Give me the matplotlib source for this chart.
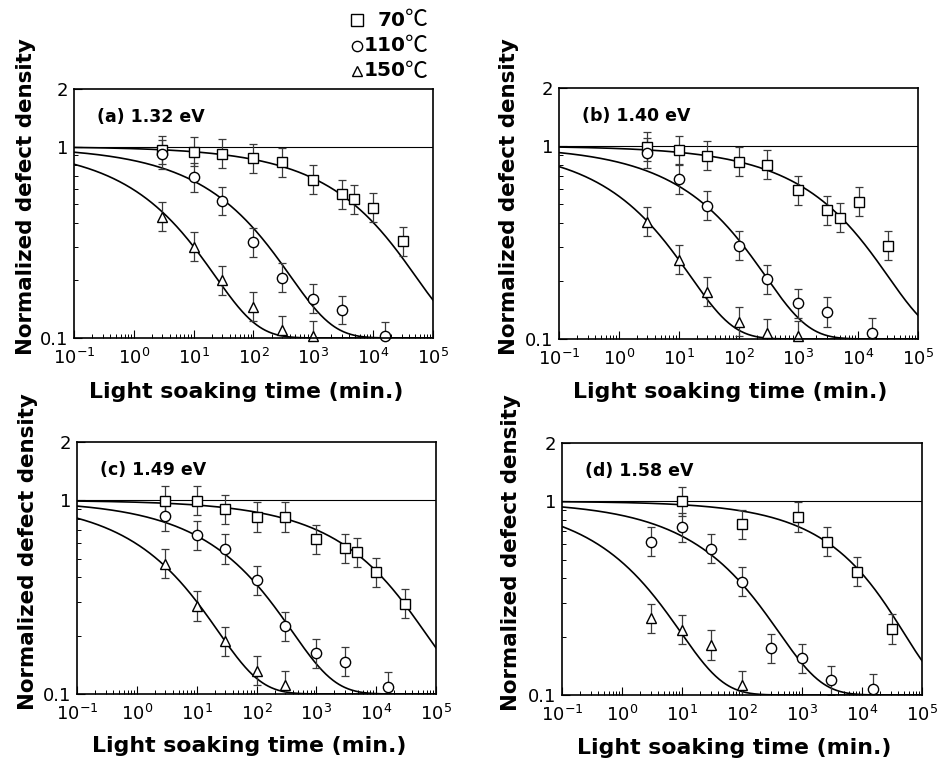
import numpy as np
import matplotlib
matplotlib.use("Agg")
import matplotlib.pyplot as plt
from matplotlib.ticker import LogLocator, FixedLocator, NullFormatter, FixedFormatter
from matplotlib.lines import Line2D

plt.rcParams['font.family'] = ['DejaVu Sans']
plt.rcParams['mathtext.fontset'] = 'dejavusans'

# ---------------- data ----------------
temps = ['70', '110', '150']
panel_titles = ['(a) 1.32 eV', '(b) 1.40 eV', '(c) 1.49 eV', '(d) 1.58 eV']

# panel (a)
a_t70 = [3, 10, 30, 100, 300, 1000, 3000, 4800, 10000, 32000]
a_n70 = [0.96, 0.94, 0.92, 0.87, 0.83, 0.67, 0.565, 0.53, 0.48, 0.32]
a_t110 = [3, 10, 30, 100, 300, 1000, 3000, 16000]
a_n110 = [0.91, 0.69, 0.52, 0.316, 0.207, 0.16, 0.14, 0.102]
a_t150 = [3, 10, 30, 100, 300, 1000]
a_n150 = [0.43, 0.30, 0.20, 0.146, 0.11, 0.103]

# panel (b)
b_t70 = [3, 10, 30, 100, 300, 1000, 3000, 4900, 10300, 31600]
b_n70 = [0.99, 0.95, 0.89, 0.83, 0.80, 0.59, 0.465, 0.426, 0.516, 0.304]
b_t110 = [3, 10, 30, 100, 300, 1000, 3000, 17000]
b_n110 = [0.92, 0.675, 0.49, 0.304, 0.204, 0.153, 0.138, 0.108]
b_t150 = [3, 10, 30, 100, 300, 1000]
b_n150 = [0.406, 0.257, 0.176, 0.123, 0.107, 0.104]

# panel (c)
c_t70 = [3, 10, 30, 100, 300, 1000, 3000, 4800, 10000, 30000]
c_n70 = [0.995, 0.995, 0.90, 0.82, 0.82, 0.63, 0.565, 0.54, 0.424, 0.293]
c_t110 = [3, 10, 30, 100, 300, 1000, 3000, 16000]
c_n110 = [0.83, 0.66, 0.56, 0.387, 0.224, 0.162, 0.147, 0.109]
c_t150 = [3, 10, 30, 100, 300]
c_n150 = [0.47, 0.285, 0.187, 0.132, 0.111]

# panel (d)
d_t70 = [10, 100, 850, 2600, 8200, 31600]
d_n70 = [1.0, 0.76, 0.83, 0.62, 0.433, 0.219]
d_t110 = [3, 10, 30, 100, 300, 1000, 3000, 15000]
d_n110 = [0.62, 0.735, 0.57, 0.385, 0.174, 0.155, 0.119, 0.108]
d_t150 = [3, 10, 30, 100]
d_n150 = [0.249, 0.217, 0.181, 0.112]

# fitted-curve parameters (stretched exponential decay to a floor)
fit_tau = {'a': [8000, 65, 3.6], 'b': [5000, 45, 2.5], 'c': [10000, 62, 3.6], 'd': [9500, 65, 1.5]}
fit_beta = {'a': [0.4, 0.4, 0.4], 'b': [0.4, 0.4, 0.4], 'c': [0.4, 0.4, 0.4], 'd': [0.45, 0.4, 0.4]}
fit_floor = 0.1
err_factor = 1.19  # error bars: multiplicative

panels = {
    'a': [(a_t70, a_n70), (a_t110, a_n110), (a_t150, a_n150)],
    'b': [(b_t70, b_n70), (b_t110, b_n110), (b_t150, b_n150)],
    'c': [(c_t70, c_n70), (c_t110, c_n110), (c_t150, c_n150)],
    'd': [(d_t70, d_n70), (d_t110, d_n110), (d_t150, d_n150)],
}

# ---------------- styling ----------------
W, H = 944, 763
fig = plt.figure(figsize=(W / 100, H / 100), dpi=100)

def rect(l, t, r, b):
    return [l / W, 1 - b / H, (r - l) / W, (b - t) / H]

axes_rects = {
    'a': rect(74, 89, 433, 338),
    'b': rect(559, 88, 918, 339),
    'c': rect(77, 442, 436, 694),
    'd': rect(562, 443, 922, 695),
}
ylabel_coords = {'a': (-0.135, 0.566), 'b': (-0.138, 0.566), 'c': (-0.137, 0.565), 'd': (-0.141, 0.563)}
xlabel_coords = {'a': (0.479, -0.215), 'b': (0.478, -0.211), 'c': (0.479, -0.206), 'd': (0.478, -0.21)}

markers = ['s', 'o', '^']
msizes = [7.2, 7.4, 6.5]
tgrid = np.logspace(-1, 5, 500)

for key, title in zip(['a', 'b', 'c', 'd'], panel_titles):
    ax = fig.add_axes(axes_rects[key])
    ax.set_xscale('log')
    ax.set_yscale('log')
    ax.set_xlim(0.1, 1e5)
    ax.set_ylim(0.1, 2)
    ax.axhline(1.0, color='black', lw=0.8, zorder=1)

    for i, (t, n) in enumerate(panels[key]):
        tau = fit_tau[key][i]
        beta = fit_beta[key][i]
        curve = fit_floor + (1 - fit_floor) * np.exp(-(tgrid / tau) ** beta)
        ax.plot(tgrid, curve, color='black', lw=1.2, zorder=2)
        t = np.array(t, dtype=float)
        n = np.array(n, dtype=float)
        yerr = [n - n / err_factor, n * err_factor - n]
        ax.errorbar(t, n, yerr=yerr, fmt='none', ecolor='#3a3a3a', elinewidth=0.9,
                    capsize=3.2, capthick=0.9, zorder=3)
        ax.plot(t, n, linestyle='none', marker=markers[i], ms=msizes[i], mfc='white',
                mec='black', mew=1.0, zorder=4, clip_on=False)

    ax.xaxis.set_major_locator(LogLocator(base=10, numticks=10))
    ax.xaxis.set_minor_locator(LogLocator(base=10, subs=np.arange(2, 10), numticks=20))
    ax.xaxis.set_minor_formatter(NullFormatter())
    ax.yaxis.set_major_locator(FixedLocator([0.1, 1, 2]))
    ax.yaxis.set_major_formatter(FixedFormatter(['0.1', '1', '2']))
    ax.yaxis.set_minor_locator(FixedLocator([0.2, 0.3, 0.4, 0.5, 0.6, 0.7, 0.8, 0.9]))
    ax.yaxis.set_minor_formatter(NullFormatter())

    ax.tick_params(which='both', direction='in', top=False, right=False, labelsize=13)
    ax.tick_params(which='major', length=6, width=0.8)
    ax.tick_params(which='minor', length=3.2, width=0.7)
    ax.tick_params(axis='x', which='major', pad=7)
    ax.tick_params(axis='y', which='major', pad=4)
    for s in ax.spines.values():
        s.set_linewidth(1.2)
        s.set_zorder(5)

    ax.text(0.064, 0.888, title, transform=ax.transAxes, fontsize=12.5,
            fontweight='bold', ha='left', va='center')

    ax.set_ylabel('Normalized defect density', fontsize=15.4, fontweight='bold')
    ax.yaxis.set_label_coords(*ylabel_coords[key])
    ax.yaxis.label.set_verticalalignment('center')
    ax.set_xlabel('Light soaking time (min.)', fontsize=15.8, fontweight='bold')
    ax.xaxis.set_label_coords(*xlabel_coords[key])
    ax.xaxis.label.set_verticalalignment('center')

# ---------------- legend (top, figure coordinates) ----------------
leg_rows_y = [20, 45.5, 71]
leg_marker_x = 357
leg_msizes = [8.4, 7.4, 7.0]
for i, (temp, yy) in enumerate(zip(temps, leg_rows_y)):
    fy = 1 - yy / H
    fig.add_artist(Line2D([leg_marker_x / W], [fy], marker=markers[i], ms=leg_msizes[i],
                          mfc='white', mec='black', mew=1.0, linestyle='none',
                          transform=fig.transFigure))
    fig.text(406 / W, fy, temp, fontsize=14.5, fontweight='bold', ha='right', va='center')
    fig.text(405 / W, fy, '\u2103', fontsize=16.5, ha='left', va='center',
             family=['Noto Sans CJK JP', 'DejaVu Sans'])

fig.savefig('out.png', dpi=100)
